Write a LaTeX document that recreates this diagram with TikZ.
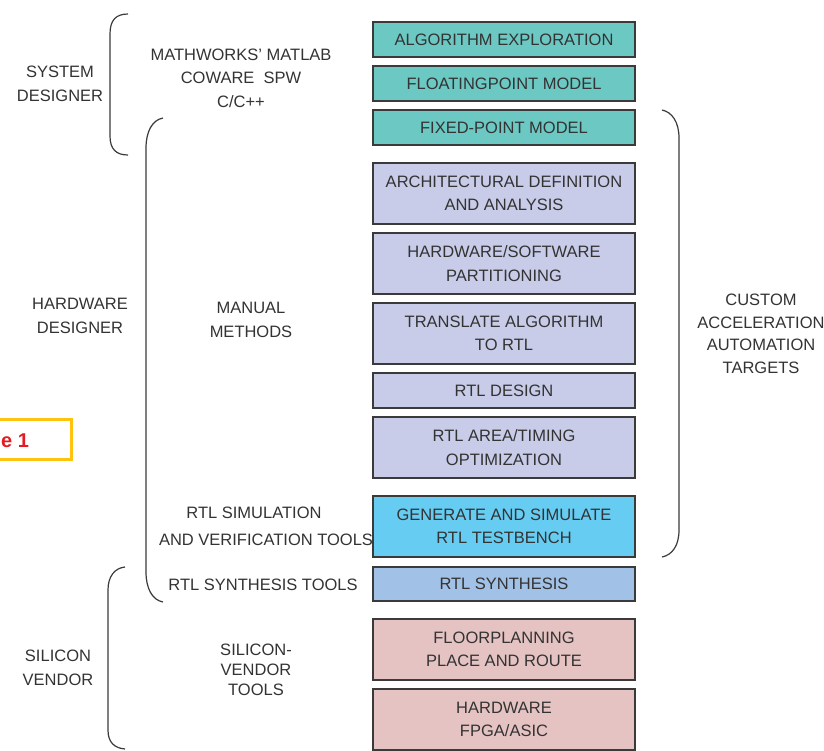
\documentclass[tikz,border=0pt]{standalone}
\usepackage{fontspec}
\setmainfont{Liberation Sans}
\definecolor{txtgray}{HTML}{333333}
\definecolor{boxline}{HTML}{3A3A3A}
\definecolor{systeal}{HTML}{6CC8C3}
\definecolor{hwlav}{HTML}{C8CCE8}
\definecolor{simcyan}{HTML}{66CCF2}
\definecolor{synblue}{HTML}{A2C1E6}
\definecolor{vendpink}{HTML}{E6C3C3}
\definecolor{figgold}{HTML}{FFC20E}
\definecolor{figred}{HTML}{E31B23}
\begin{document}
\begin{tikzpicture}
    [x=1pt,y=-1pt,every node/.style={text=txtgray,align=center,font=\fontsize{16.5}{23.5}\selectfont},
     stage/.style={draw=boxline,line width=1.3pt,minimum width=262pt,minimum height=35pt,inner sep=0pt},
     tallstage/.style={stage,minimum height=61pt},
     brace/.style={draw=boxline,line width=1.2pt}]
    \useasboundingbox (0,0) rectangle (824,750);
    \clip (0,0) rectangle (824,750);

    % flow of stages
    \node[stage,fill=systeal] (algo) at (504,39.5) {ALGORITHM EXPLORATION};
    \node[stage,fill=systeal] (float) at (504,83.5) {FLOATINGPOINT MODEL};
    \node[stage,fill=systeal] (fixed) at (504,127.5) {FIXED-POINT MODEL};
    \node[tallstage,fill=hwlav] (arch) at (504,193.5) {ARCHITECTURAL DEFINITION\\AND ANALYSIS};
    \node[tallstage,fill=hwlav] (part) at (504,263.5) {HARDWARE/SOFTWARE\\PARTITIONING};
    \node[tallstage,fill=hwlav] (trans) at (504,333.5) {TRANSLATE ALGORITHM\\TO RTL};
    \node[stage,fill=hwlav] (rtl) at (504,390.5) {RTL DESIGN};
    \node[tallstage,fill=hwlav] (opt) at (504,447.5) {RTL AREA/TIMING\\OPTIMIZATION};
    \node[tallstage,fill=simcyan] (tb) at (504,526.5) {GENERATE AND SIMULATE\\RTL TESTBENCH};
    \node[stage,fill=synblue,minimum height=34pt] (synth) at (504,584) {RTL SYNTHESIS};
    \node[tallstage,fill=vendpink] (place) at (504,649.5) {FLOORPLANNING\\PLACE AND ROUTE};
    \node[tallstage,fill=vendpink] (hw) at (504,719.5) {HARDWARE\\FPGA/ASIC};

    % roles and tools
    \node (sysdes) at (60,84) {SYSTEM\\DESIGNER};
    \node (systools) at (241,78) {MATHWORKS’ MATLAB\\COWARE\ \ SPW\\C/C++};
    \node (hwdes) at (80,316) {HARDWARE\\DESIGNER};
    \node (manual) at (251,320) {MANUAL\\METHODS};
    \node (simtools) at (254,513) {RTL SIMULATION};
    \node (vertools) at (266,540) {AND VERIFICATION TOOLS};
    \node (syntools) at (263,585) {RTL SYNTHESIS TOOLS};
    \node (vendor) at (58,668) {SILICON\\VENDOR};
    \node[font=\fontsize{16.5}{20}\selectfont] (vendtools) at (256,670) {SILICON-\\VENDOR\\TOOLS};
    \node[font=\fontsize{16.5}{22.5}\selectfont] (custom) at (761,334) {CUSTOM\\ACCELERATION\\AUTOMATION\\TARGETS};

    % braces
    \draw[brace] (128,14) .. controls (116,14) and (110,20) .. (110,34) -- (110,136)
        .. controls (110,149) and (116,155) .. (128,155);
    \draw[brace] (163,118) .. controls (152,120) and (146,132) .. (146,148) -- (146,572)
        .. controls (146,588) and (152,600) .. (163,602);
    \draw[brace] (125,567) .. controls (115,568) and (108,576) .. (108,590) -- (108,730)
        .. controls (108,742) and (114,748) .. (125,749);
    \draw[brace] (662,110) .. controls (672,112) and (679,122) .. (679,138) -- (679,530)
        .. controls (679,546) and (672,555) .. (662,557);

    % figure tag
    \draw[draw=figgold,line width=3pt] (-20,419) rectangle (71,459);
    \node[text=figred,font=\fontsize{20}{22}\selectfont\bfseries,anchor=west,inner sep=0pt] (figtag) at (1,441) {e 1};
  \end{tikzpicture}
\end{document}
